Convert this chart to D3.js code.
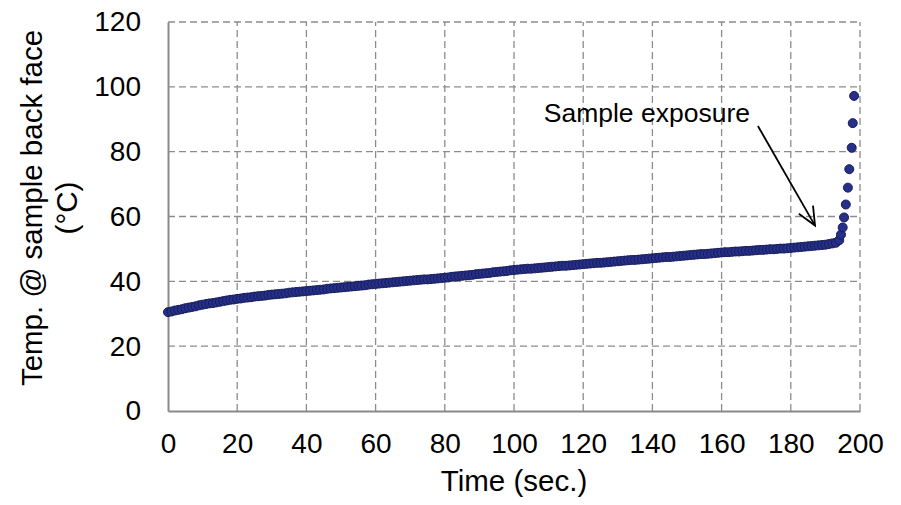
<!DOCTYPE html>
<html>
<head>
<meta charset="utf-8">
<script src="https://cdn.jsdelivr.net/npm/d3@7"></script>
<style>
  body { margin: 0; background: #fff; }
  text { font-family: "Liberation Sans", Arial, sans-serif; fill: #000; }
</style>
</head>
<body>
<script>
// temperature read once per second, 0..193 s
var steadyTemp = [
  30.5,30.7,31.0,31.2,31.4,31.7,31.9,32.1,32.3,32.6,
  32.8,33.0,33.2,33.3,33.5,33.7,33.9,34.1,34.3,34.4,
  34.6,34.7,34.9,35.0,35.1,35.3,35.4,35.5,35.6,35.8,
  35.9,36.0,36.1,36.2,36.3,36.5,36.6,36.7,36.8,36.9,
  37.0,37.1,37.2,37.3,37.4,37.5,37.7,37.8,37.9,38.0,
  38.1,38.2,38.3,38.4,38.5,38.6,38.7,38.8,39.0,39.1,
  39.2,39.3,39.4,39.5,39.6,39.7,39.8,39.9,40.0,40.1,
  40.2,40.3,40.4,40.5,40.6,40.6,40.7,40.8,40.9,41.0,
  41.1,41.2,41.4,41.5,41.6,41.7,41.8,41.9,42.0,42.2,
  42.3,42.4,42.5,42.6,42.8,42.9,43.0,43.1,43.2,43.4,
  43.5,43.6,43.7,43.8,43.9,43.9,44.0,44.1,44.2,44.3,
  44.4,44.5,44.6,44.7,44.8,44.8,44.9,45.0,45.1,45.2,
  45.3,45.4,45.5,45.6,45.7,45.7,45.8,45.9,46.0,46.1,
  46.2,46.3,46.4,46.5,46.6,46.6,46.7,46.8,46.9,47.0,
  47.1,47.2,47.3,47.4,47.5,47.5,47.6,47.7,47.8,47.9,
  48.0,48.1,48.2,48.3,48.4,48.4,48.5,48.6,48.7,48.8,
  48.9,49.0,49.0,49.1,49.2,49.2,49.3,49.4,49.4,49.5,
  49.6,49.7,49.7,49.8,49.9,49.9,50.0,50.1,50.1,50.2,
  50.3,50.4,50.5,50.6,50.7,50.8,50.9,51.0,51.1,51.2,
  51.3,51.5,51.7,51.9
];
var steadyTime = d3.range(steadyTemp.length);

// sample exposure: the last few readings
var riseTime = [194.0, 194.5, 195.0, 195.4, 195.9, 196.5, 196.9, 197.6, 197.9, 198.3];
var riseTemp = [52.7, 54.4, 56.6, 59.7, 63.7, 68.9, 74.6, 81.2, 88.8, 97.2];

var xTicks = [0, 20, 40, 60, 80, 100, 120, 140, 160, 180, 200];
var yTicks = [0, 20, 40, 60, 80, 100, 120];

var width = 901, height = 505;
var margin = {left: 168, right: 41, top: 22, bottom: 94};

var x = d3.scaleLinear().domain([0, 200]).range([margin.left, width - margin.right]);
var y = d3.scaleLinear().domain([0, 120]).range([height - margin.bottom, margin.top]);

var svg = d3.select("body").append("svg")
    .attr("width", width)
    .attr("height", height);

var gridColor = "#8c8c8c";

// dashed grid
svg.append("g").selectAll("line")
    .data(yTicks.filter(function(d){ return d > 0; }))
  .enter().append("line")
    .attr("x1", x(0)).attr("x2", x(200))
    .attr("y1", d => y(d)).attr("y2", d => y(d))
    .attr("stroke", gridColor).attr("stroke-width", 1.3)
    .attr("stroke-dasharray", "7,4");

svg.append("g").selectAll("line")
    .data(xTicks.filter(function(d){ return d > 0; }))
  .enter().append("line")
    .attr("x1", d => x(d)).attr("x2", d => x(d))
    .attr("y1", y(0)).attr("y2", y(120))
    .attr("stroke", gridColor).attr("stroke-width", 1.3)
    .attr("stroke-dasharray", "7,4");

// axes
var xAxis = d3.axisBottom(x).tickValues(xTicks).tickSize(0).tickPadding(22);
var yAxis = d3.axisLeft(y).tickValues(yTicks).tickSize(0).tickPadding(27);

var gx = svg.append("g").attr("transform", "translate(0," + y(0) + ")").call(xAxis);
var gy = svg.append("g").attr("transform", "translate(" + x(0) + ",0)").call(yAxis);

[gx, gy].forEach(function(g){
  g.select(".domain").attr("stroke", "#898989").attr("stroke-width", 2);
  g.selectAll("text")
    .style("font-family", "'Liberation Sans', Arial, sans-serif")
    .style("font-size", "28px")
    .attr("fill", "#000");
});

// data points
var pts = steadyTime.map(function(t, i){ return [t, steadyTemp[i]]; })
  .concat(riseTime.map(function(t, i){ return [t, riseTemp[i]]; }));

svg.append("g").selectAll("circle")
    .data(pts)
  .enter().append("circle")
    .attr("cx", d => x(d[0]))
    .attr("cy", d => y(d[1]))
    .attr("r", 4.5)
    .attr("fill", "#26308a")
    .attr("stroke", "#161c55")
    .attr("stroke-width", 1);

// axis titles
svg.append("text")
    .attr("x", (x(0) + x(200)) / 2)
    .attr("y", 491)
    .attr("text-anchor", "middle")
    .style("font-size", "29.5px")
    .text("Time (sec.)");

var yTitle = svg.append("text")
    .attr("transform", "translate(0,208) rotate(-90)")
    .attr("text-anchor", "middle")
    .style("font-size", "29.5px");
yTitle.append("tspan").attr("x", 0).attr("y", 42).text("Temp. @ sample back face");
yTitle.append("tspan").attr("x", 0).attr("y", 77).text("(°C)");

// annotation
svg.append("text")
    .attr("x", x(168.2))
    .attr("y", y(89.3))
    .attr("text-anchor", "end")
    .style("font-size", "26.5px")
    .text("Sample exposure");

var a0 = [x(170.5), y(87.9)], a1 = [x(187), y(57.2)];
svg.append("line")
    .attr("x1", a0[0]).attr("y1", a0[1])
    .attr("x2", a1[0]).attr("y2", a1[1])
    .attr("stroke", "#000").attr("stroke-width", 1.8);

var ang = Math.atan2(a1[1] - a0[1], a1[0] - a0[0]);
var head = 20, spread = 0.42;
svg.append("path")
    .attr("d", "M" + (a1[0] - head * Math.cos(ang - spread)) + "," + (a1[1] - head * Math.sin(ang - spread)) +
               "L" + a1[0] + "," + a1[1] +
               "L" + (a1[0] - head * Math.cos(ang + spread)) + "," + (a1[1] - head * Math.sin(ang + spread)))
    .attr("fill", "none")
    .attr("stroke", "#000").attr("stroke-width", 1.8);
</script>
</body>
</html>
